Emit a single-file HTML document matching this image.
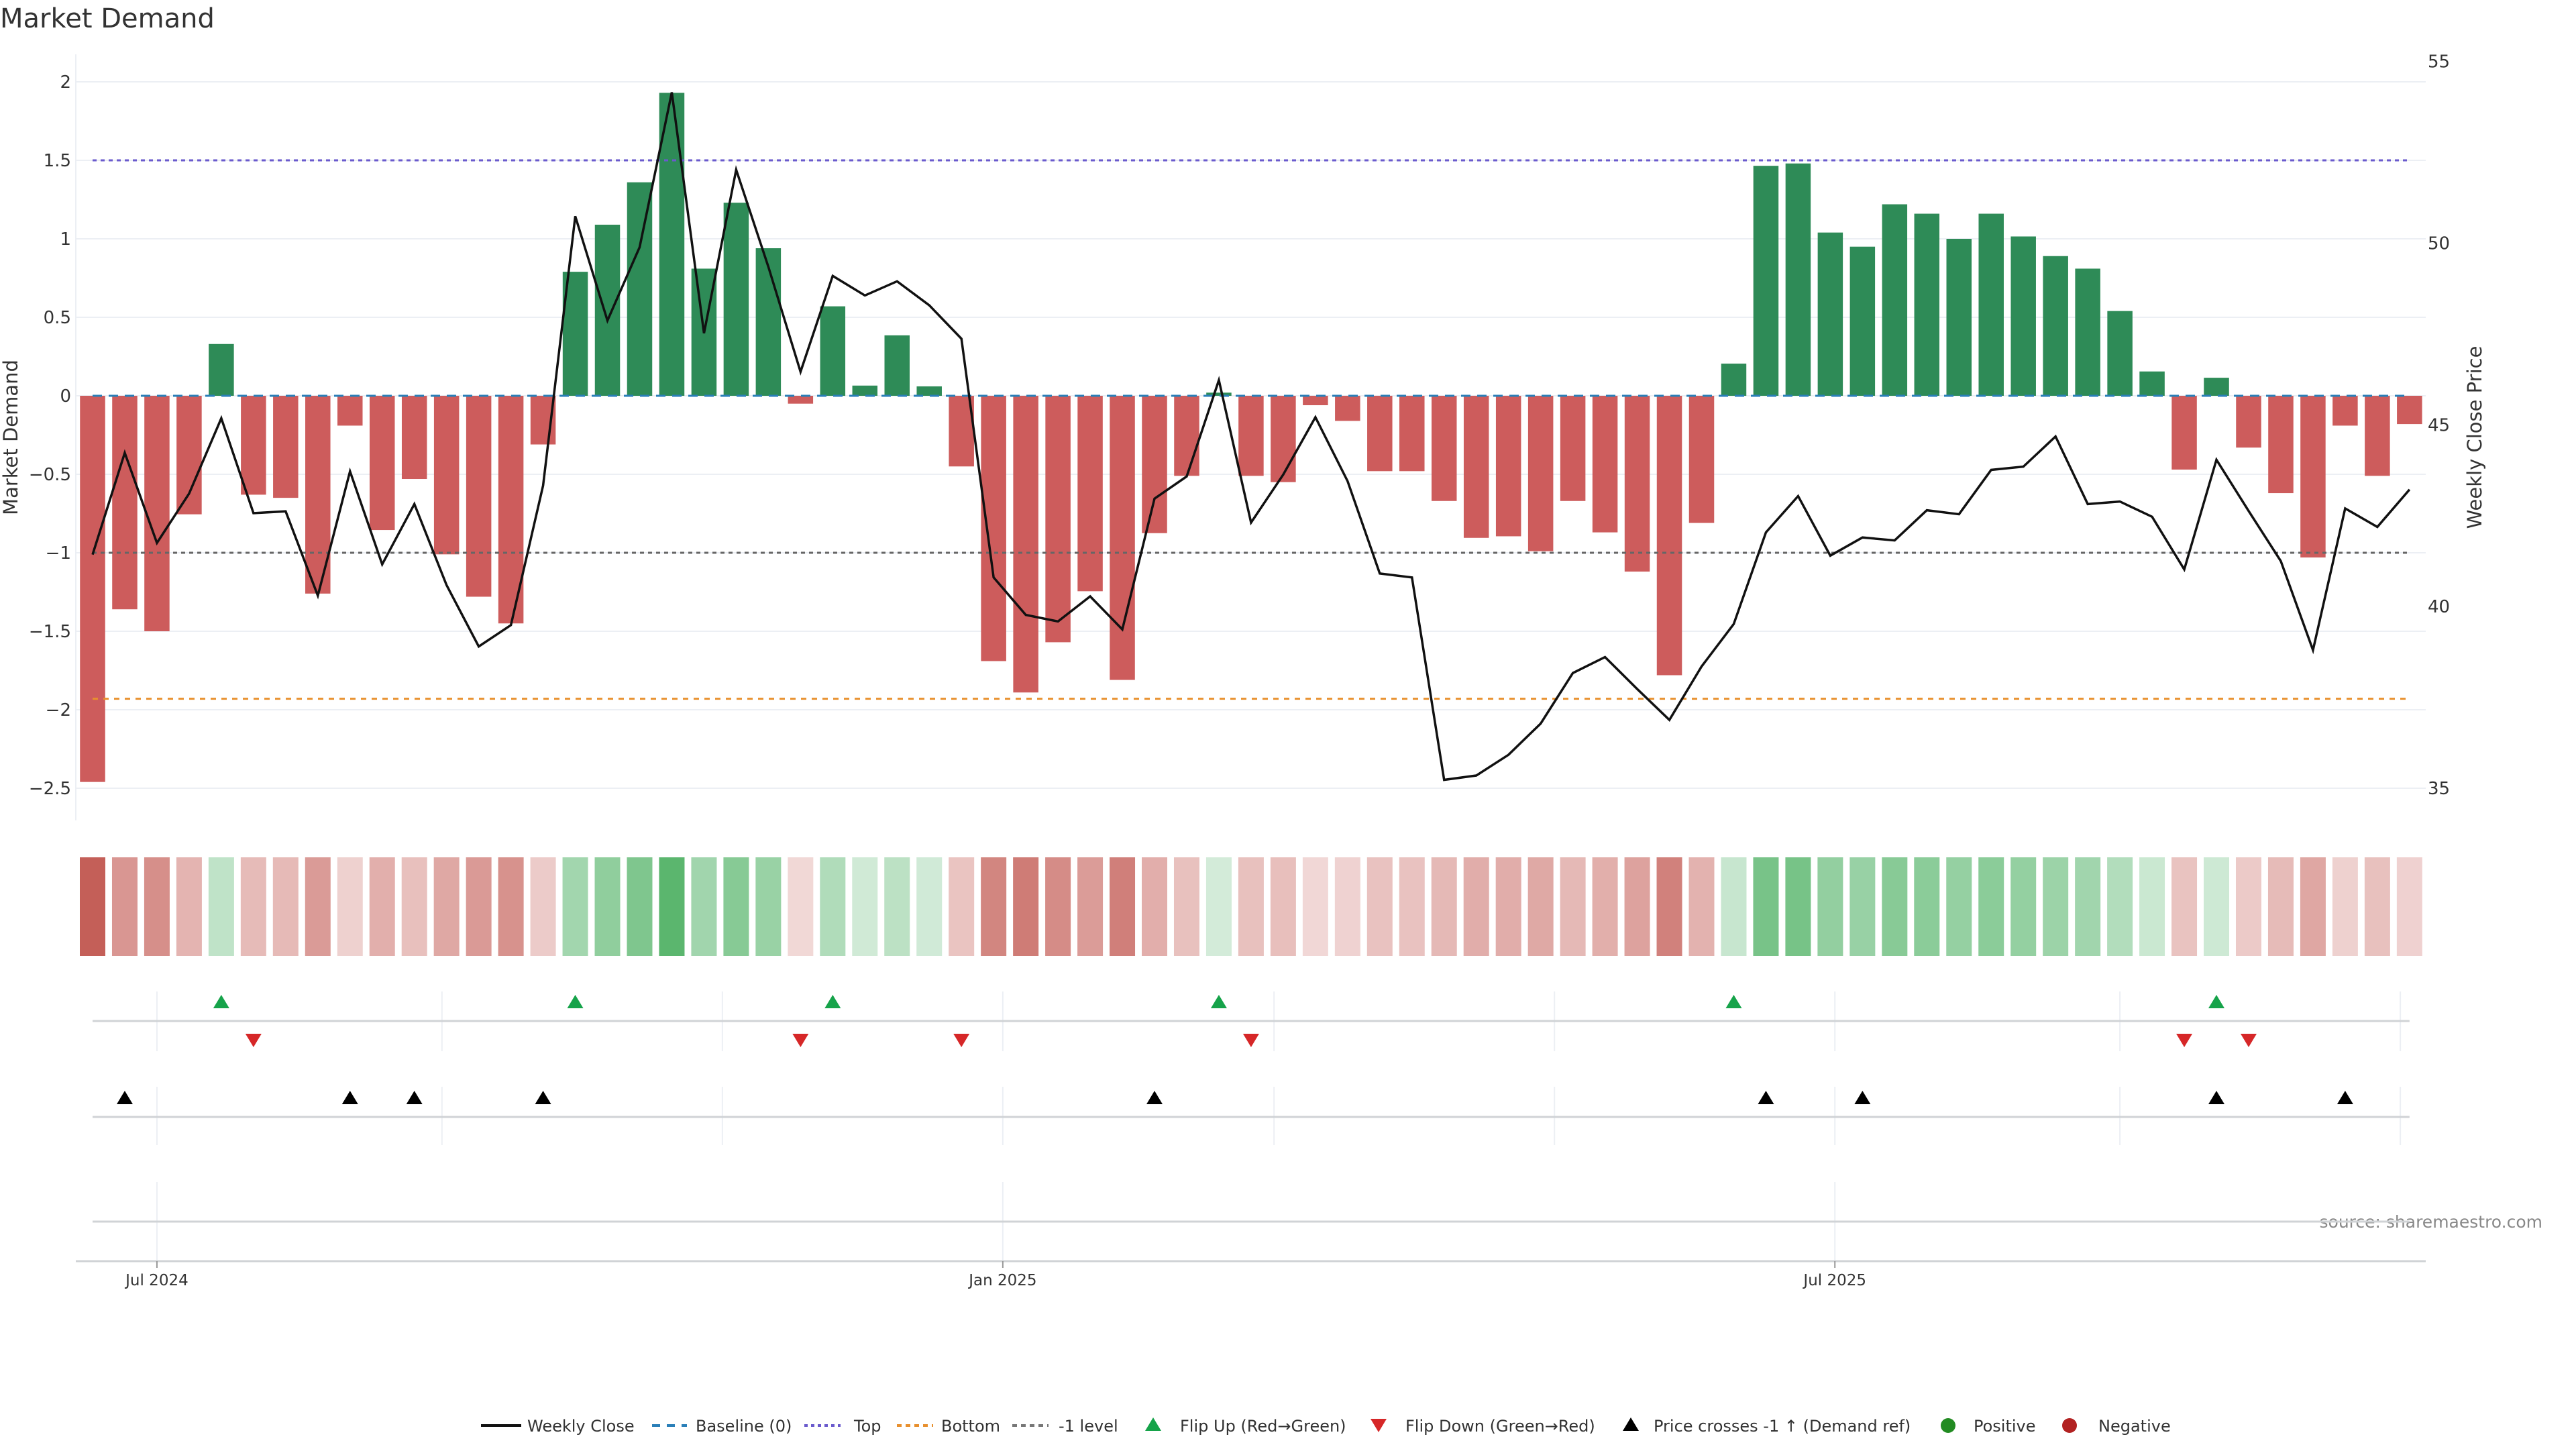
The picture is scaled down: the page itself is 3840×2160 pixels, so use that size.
<!DOCTYPE html>
<html><head><meta charset="utf-8"><title>Market Demand</title>
<style>
html,body{margin:0;padding:0;background:#fff;}
svg{display:block;font-family:"DejaVu Sans","Liberation Sans",sans-serif;}
</style></head>
<body>
<svg id="chart" width="3840" height="2160" viewBox="0 0 3840 2160" xmlns="http://www.w3.org/2000/svg">
<text x="0" y="41" font-size="40" fill="#333">Market Demand</text>
<text transform="translate(26,652) rotate(-90)" text-anchor="middle" font-size="29" fill="#333">Market Demand</text>
<text transform="translate(3699,652) rotate(-90)" text-anchor="middle" font-size="29" fill="#333">Weekly Close Price</text>
<text x="3790" y="1830" text-anchor="end" font-size="25" fill="#888">source: sharemaestro.com</text>
<g id="main"></g>
</svg>
<script>
const demand = [-2.46,-1.36,-1.50,-0.755,0.33,-0.63,-0.65,-1.26,-0.19,-0.855,-0.53,-1.01,-1.28,-1.45,-0.31,
0.79,1.09,1.36,1.93,0.81,1.23,0.94,-0.05,0.57,0.065,0.385,0.06,-0.45,-1.69,-1.89,-1.57,-1.245,-1.81,-0.875,-0.51,
0.02,-0.51,-0.55,-0.06,-0.16,-0.48,-0.48,-0.67,-0.905,-0.895,-0.99,-0.67,-0.87,-1.12,-1.78,-0.81,
0.205,1.465,1.48,1.04,0.95,1.22,1.16,1.0,1.16,1.015,0.89,0.81,0.54,0.155,-0.47,0.115,-0.33,-0.62,-1.03,-0.19,-0.51,-0.18];
const price = [41.43,44.23,41.75,43.11,45.18,42.57,42.62,40.30,43.72,41.16,42.82,40.59,38.90,39.49,43.33,
50.74,47.87,49.89,54.15,47.52,52.02,49.35,46.46,49.10,48.56,48.95,48.29,47.37,40.80,39.77,39.59,40.28,39.37,42.97,43.58,
46.23,42.31,43.63,45.21,43.45,40.91,40.80,35.23,35.35,35.92,36.78,38.17,38.61,37.73,36.88,38.35,
39.52,42.04,43.04,41.40,41.90,41.82,42.65,42.54,43.76,43.85,44.68,42.82,42.89,42.47,41.02,44.04,42.63,41.25,38.80,42.70,42.19,43.22];
const leftTicks = [2,1.5,1,0.5,0,-0.5,-1,-1.5,-2,-2.5];
const leftTickLabels = ["2","1.5","1","0.5","0","\u22120.5","\u22121","\u22121.5","\u22122","\u22122.5"];
const rightTicks = [55,50,45,40,35];
const levelTop = 1.5, levelBottom = -1.93, levelMinus1 = -1;
const dateTicks = ["2024-07-01","2025-01-01","2025-07-01"];
const dateTickLabels = ["Jul 2024","Jan 2025","Jul 2025"];
const markerGridDates = ["2024-07-01","2024-09-01","2024-11-01","2025-01-01","2025-03-01","2025-05-01","2025-07-01","2025-09-01","2025-11-01"];
const firstWeek = "2024-06-17";

const NS="http://www.w3.org/2000/svg";
const g=document.getElementById('main');
function el(tag,attrs,parent){const e=document.createElementNS(NS,tag);for(const k in attrs)e.setAttribute(k,attrs[k]);(parent||g).appendChild(e);return e;}
const X0=138, STEP=47.97, BW=37.5;
function xi(i){return X0+i*STEP;}
function xd(d){return X0+(new Date(d+"T00:00:00Z")-new Date(firstWeek+"T00:00:00Z"))/(7*864e5)*STEP;}
function yL(v){return 590-234*v;}
function yR(p){return 1175-(p-35)*54.17;}
const xEnd=xi(demand.length-1);

leftTicks.forEach((t,k)=>{
  const gl=el('line',{x1:113,x2:3616,y1:yL(t),y2:yL(t),stroke:'#eceff4','stroke-width':2});
  
  
  const tx=el('text',{x:106,y:yL(t)+9,'text-anchor':'end','font-size':26,fill:'#333'});
  tx.textContent=leftTickLabels[k];
  
  
});
rightTicks.forEach(t=>{
  const tx=el('text',{x:3619,y:yR(t)+9,'font-size':26,fill:'#333'});
  tx.textContent=String(t);
  
  
});
const ax=el('line',{x1:113,x2:113,y1:81,y2:1223,stroke:'#eceff4','stroke-width':2});



demand.forEach((v,i)=>{
  const y0=yL(0),y1=yL(v);
  const r=el('rect',{x:xi(i)-BW/2,y:Math.min(y0,y1),width:BW,height:Math.max(1,Math.abs(y1-y0)),fill:v>=0?'#2e8b57':'#cd5c5c'});
  
  
});
function hline(v,color,dash,name,w){
  const l=el('line',{x1:X0,x2:xEnd,y1:yL(v),y2:yL(v),stroke:color,'stroke-width':w||3,'stroke-dasharray':dash});
  
  
}
hline(0,'#2a7fb8','14 10','baseline-line',3);
hline(levelTop,'#6a5acd','6 6','top-line');
hline(levelBottom,'#e8902e','8 8','bottom-line');
hline(levelMinus1,'#666','6 6','minus-one-level-line');
const pl=el('polyline',{points:price.map((p,i)=>xi(i)+','+yR(p)).join(' '),fill:'none',stroke:'#111','stroke-width':3.5,'stroke-linejoin':'miter'});



const maxNeg=Math.max(...demand.map(v=>v<0?-v:0)), maxPos=Math.max(...demand.map(v=>v>0?v:0));
function mix(a,b,t){return 'rgb('+a.map((c,k)=>Math.round(c+(b[k]-c)*t)).join(',')+')';}
demand.forEach((v,i)=>{
  const c=v>=0?mix([212,236,218],[91,182,110],v/maxPos):mix([242,218,217],[196,95,88],-v/maxNeg);
  const r=el('rect',{x:xi(i)-19,y:1278,width:38,height:147,fill:c});
  
  
});

markerGridDates.forEach(d=>{
  [[1478,1567],[1620,1707]].forEach(([a,b])=>{
    const l=el('line',{x1:xd(d),x2:xd(d),y1:a,y2:b,stroke:'#eceff4','stroke-width':2});
    
    
  });
});
dateTicks.forEach(d=>{
  const l=el('line',{x1:xd(d),x2:xd(d),y1:1762,y2:1880,stroke:'#eceff4','stroke-width':2});
  
  
});
[1522,1665,1821].forEach(y=>{
  const l=el('line',{x1:X0,x2:xEnd,y1:y,y2:y,stroke:'#d0d3d6','stroke-width':3});
  
  
});
const xa=el('line',{x1:113,x2:3616,y1:1880,y2:1880,stroke:'#d0d3d6','stroke-width':3});


dateTicks.forEach((d,k)=>{
  const t=el('line',{x1:xd(d),x2:xd(d),y1:1880,y2:1890,stroke:'#999','stroke-width':2});
  
  
  const tx=el('text',{x:xd(d),y:1916,'text-anchor':'middle','font-size':23,fill:'#333'});
  tx.textContent=dateTickLabels[k];
  
  
});
function tri(cx,cy,up,color,name){
  const h=20,w=24;
  const pts=up?[[cx,cy-h/2],[cx-w/2,cy+h/2],[cx+w/2,cy+h/2]]:[[cx,cy+h/2],[cx-w/2,cy-h/2],[cx+w/2,cy-h/2]];
  const p=el('polygon',{points:pts.map(q=>q.join(',')).join(' '),fill:color});
  
  
}
for(let i=1;i<demand.length;i++){
  if(demand[i-1]<0&&demand[i]>=0)tri(xi(i),1493,true,'#16a34a','flip-up-marker');
  if(demand[i-1]>=0&&demand[i]<0)tri(xi(i),1551,false,'#d62728','flip-down-marker');
}
const pRef=35+(1175-yL(levelMinus1))/54.17;
for(let i=1;i<price.length;i++){
  if(price[i-1]<pRef&&price[i]>=pRef)tri(xi(i),1636,true,'#000','price-cross-marker');
}

const LY=2125;
const lg=el('g',{});


function ltext(x,s){const t=el('text',{x:x,y:LY+9,'font-size':24,fill:'#333'},lg);t.textContent=s;}
function lline(x1,x2,color,dash,w){const l=el('line',{x1:x1,x2:x2,y1:LY,y2:LY,stroke:color,'stroke-width':w,'stroke-dasharray':dash},lg);}
lline(717,777,'#111','',4);ltext(786,'Weekly Close');
lline(972,1024,'#2a7fb8','12 10',4);ltext(1037,'Baseline (0)');
lline(1199,1253,'#6a5acd','5 5',4);ltext(1273,'Top');
lline(1337,1391,'#e8902e','7 6',4);ltext(1403,'Bottom');
lline(1509,1563,'#777','7 6',4);ltext(1578,'-1 level');
tri(1719,LY-2,true,'#16a34a','legend-flip-up');ltext(1759,'Flip Up (Red\u2192Green)');
tri(2055,LY,false,'#d62728','legend-flip-down');ltext(2095,'Flip Down (Green\u2192Red)');
tri(2431,LY-2,true,'#000','legend-price-cross');ltext(2465,'Price crosses -1 \u2191 (Demand ref)');
const c1=el('circle',{cx:2904,cy:LY,r:11,fill:'#228b22'},lg);


ltext(2942,'Positive');
const c2=el('circle',{cx:3085,cy:LY,r:11,fill:'#b22222'},lg);


ltext(3128,'Negative');
</script>
</body></html>
